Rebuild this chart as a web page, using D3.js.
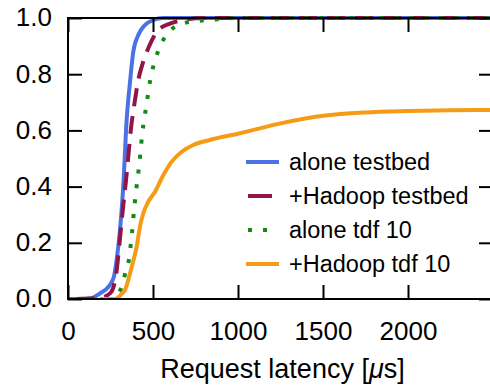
<!DOCTYPE html>
<html>
<head>
<meta charset="utf-8">
<script src="https://cdn.jsdelivr.net/npm/d3@7"></script>
<style>
  html, body { margin: 0; padding: 0; background: #fff; }
  svg { display: block; }
  text { font-family: "Liberation Sans", Arial, Helvetica, sans-serif; fill: #000; }
</style>
</head>
<body>
<svg id="chart" width="490" height="389"></svg>
<script>
// CDF of request latency (µs) for four configurations
const aloneTestbedX  = [0, 70, 130, 188, 240, 270, 286, 306, 325, 345, 365, 384, 414, 453, 502, 560, 2500];
const aloneTestbedY  = [0, 0, 0.002, 0.02, 0.045, 0.079, 0.139, 0.246, 0.4, 0.637, 0.773, 0.88, 0.94, 0.975, 0.993, 1, 1];

const hadoopTestbedX = [50, 188, 247, 275, 286, 300, 316, 345, 371, 392, 412, 440, 472, 531, 600, 700, 800, 2500];
const hadoopTestbedY = [0, 0.004, 0.02, 0.06, 0.1, 0.18, 0.28, 0.445, 0.61, 0.7, 0.775, 0.84, 0.892, 0.957, 0.98, 0.995, 1, 1];

const aloneTdfX      = [240, 276, 290, 316, 340, 361, 371, 380, 388, 398, 408, 419, 428, 437, 449, 463, 476, 492, 516, 547, 600, 678, 770, 865, 1000, 2500];
const aloneTdfY      = [0, 0, 0.014, 0.044, 0.1, 0.15, 0.204, 0.257, 0.314, 0.37, 0.423, 0.477, 0.533, 0.59, 0.643, 0.696, 0.752, 0.803, 0.857, 0.906, 0.954, 0.981, 0.99, 0.995, 1, 1];

const hadoopTdfX     = [188, 280, 296, 315, 335, 375, 404, 423, 443, 472, 512, 561, 610, 669, 737, 835, 1000, 1250, 1500, 1750, 2000, 2250, 2500];
const hadoopTdfY     = [0, 0, 0.006, 0.018, 0.032, 0.115, 0.186, 0.257, 0.305, 0.346, 0.382, 0.441, 0.489, 0.524, 0.548, 0.566, 0.588, 0.625, 0.652, 0.664, 0.669, 0.672, 0.673];

const seriesNames  = ["alone testbed", "+Hadoop testbed", "alone tdf 10", "+Hadoop tdf 10"];
const xTickValues  = [0, 500, 1000, 1500, 2000];
const yTickValues  = [0, 0.2, 0.4, 0.6, 0.8, 1.0];

const series = [
  { name: seriesNames[0], xs: aloneTestbedX,  ys: aloneTestbedY,  color: "#4a72e4", dash: null,    legendEnd: 279 },
  { name: seriesNames[1], xs: hadoopTestbedX, ys: hadoopTestbedY, color: "#931447", dash: "18,10", legendEnd: 272 },
  { name: seriesNames[2], xs: aloneTdfX,      ys: aloneTdfY,      color: "#138a13", dash: "4,11",  legendEnd: 268 },
  { name: seriesNames[3], xs: hadoopTdfX,     ys: hadoopTdfY,     color: "#f59b15", dash: null,    legendEnd: 279 }
];

const svg = d3.select("#chart");
const m = { left: 68, right: 493, top: 18, bottom: 299 };

const x = d3.scaleLinear().domain([0, 2500]).range([m.left, m.right]);
const y = d3.scaleLinear().domain([0, 1]).range([m.bottom, m.top]);

svg.append("defs").append("clipPath").attr("id", "plotClip")
  .append("rect").attr("x", m.left).attr("y", m.top - 3)
  .attr("width", m.right - m.left).attr("height", m.bottom - m.top + 3);

// Curves
const line = d3.line().x(d => x(d[0])).y(d => y(d[1])).curve(d3.curveMonotoneX);
const plot = svg.append("g").attr("clip-path", "url(#plotClip)");
series.forEach(s => {
  const pts = s.xs.map((v, i) => [v, s.ys[i]]);
  plot.append("path")
    .attr("d", line(pts))
    .attr("fill", "none")
    .attr("stroke", s.color)
    .attr("stroke-width", 4)
    .attr("stroke-dasharray", s.dash)
    .attr("stroke-linejoin", "round");
});

// Frame with inward ticks on all four sides
const tickLen = 14;
const axisStyle = g => {
  g.select(".domain").remove();
  g.selectAll(".tick line").attr("stroke", "#000").attr("stroke-width", 2);
  g.selectAll(".tick text").style("font-size", "26px");
};

svg.append("g").attr("transform", `translate(0,${m.bottom})`)
  .call(d3.axisBottom(x).tickValues(xTickValues).tickSize(-tickLen).tickPadding(23).tickFormat(d3.format("d")))
  .call(axisStyle)
  .call(g => g.selectAll(".tick text").attr("dy", "0.71em"));

svg.append("g").attr("transform", `translate(0,${m.top})`)
  .call(d3.axisTop(x).tickValues(xTickValues).tickSize(-tickLen).tickFormat(""))
  .call(axisStyle);

svg.append("g").attr("transform", `translate(${m.left},0)`)
  .call(d3.axisLeft(y).tickValues(yTickValues).tickSize(-tickLen).tickPadding(16).tickFormat(d3.format(".1f")))
  .call(axisStyle)
  .call(g => g.selectAll(".tick text").attr("dy", "0.3em"));

svg.append("g").attr("transform", `translate(${m.right},0)`)
  .call(d3.axisRight(y).tickValues(yTickValues).tickSize(-tickLen).tickFormat(""))
  .call(axisStyle);

svg.append("rect")
  .attr("x", m.left).attr("y", m.top).attr("width", m.right - m.left).attr("height", m.bottom - m.top)
  .attr("fill", "none").attr("stroke", "#000").attr("stroke-width", 2);

// Axis title
const title = svg.append("text")
  .attr("x", (m.left + m.right) / 2 + 2).attr("y", 378)
  .attr("text-anchor", "middle").style("font-size", "27px");
title.append("tspan").text("Request latency [");
title.append("tspan").style("font-style", "italic").text("\u03bc");
title.append("tspan").text("s]");

// Legend
const legend = svg.append("g");
series.forEach((s, i) => {
  const cy = 162 + i * 34;
  legend.append("line")
    .attr("x1", s.dash ? 248 : 246).attr("x2", s.legendEnd)
    .attr("y1", cy).attr("y2", cy)
    .attr("stroke", s.color).attr("stroke-width", 4)
    .attr("stroke-dasharray", s.dash === "18,10" ? "24,40" : s.dash);
  legend.append("text")
    .attr("x", 289).attr("y", cy).attr("dy", "0.36em")
    .style("font-size", "23.5px")
    .text(s.name);
});
</script>
</body>
</html>
